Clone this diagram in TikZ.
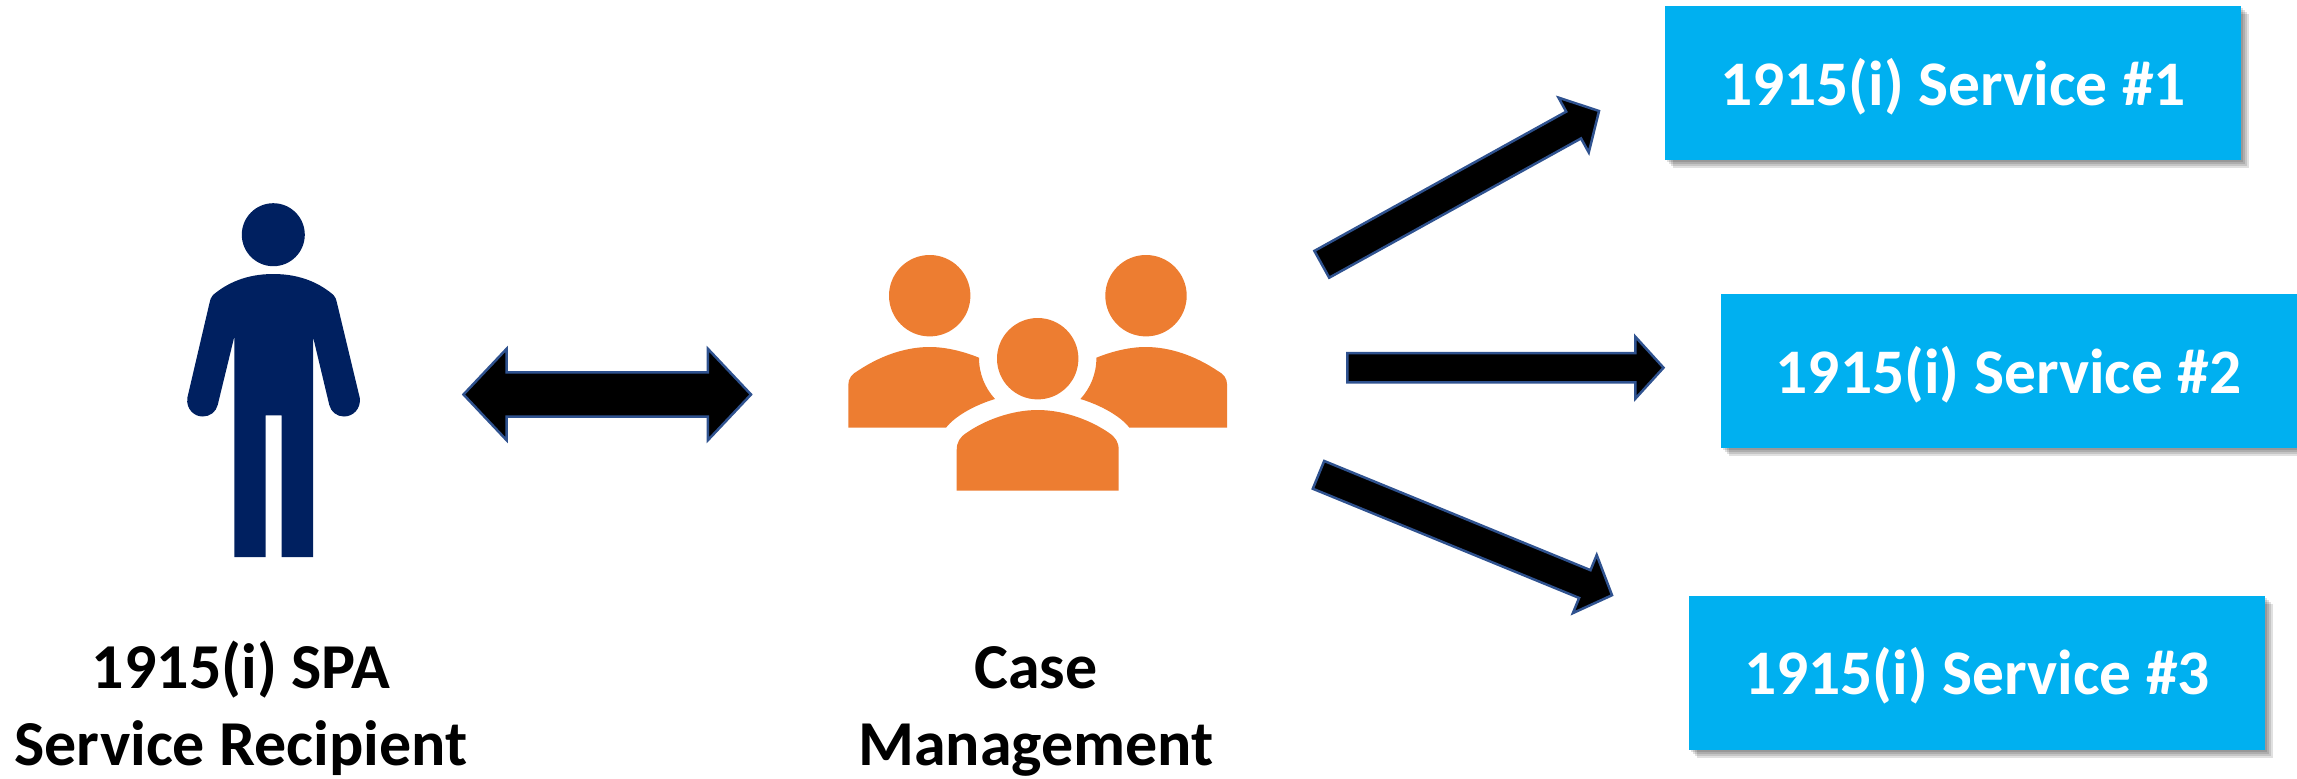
\documentclass[tikz,border=0pt]{standalone}
\usepackage{fontspec}
\setmainfont{Carlito}
\usetikzlibrary{calc,shadows}
\definecolor{navyicon}{HTML}{002060}
\definecolor{orangeicon}{HTML}{ED7D31}
\definecolor{servblue}{HTML}{00B0F0}
\definecolor{arrowedge}{HTML}{2F528F}
\tikzset{
	softshadow/.style={drop shadow={shadow xshift=#1pt,shadow yshift=-#1pt,fill=black,opacity=.12}},
	servbox/.style={fill=servblue,minimum width=576pt,minimum height=154pt,inner sep=0pt,text=white,
		font=\fontsize{63.5}{76.6}\selectfont\bfseries,text height=44pt,text depth=0pt,
		softshadow=2,softshadow=4,softshadow=6,softshadow=8},
	caption/.style={align=center,anchor=base,inner sep=0pt,font=\fontsize{64}{76.6}\selectfont\bfseries},
	blockbase/.style={fill=black,draw=arrowedge,line width=2.5pt,miter limit=10},
	% half shaft, half head, head length
	blockarrow/.style n args={3}{blockbase,to path={
		($(\tikztostart)!#1!90:(\tikztotarget)$)
		-- ($(\tikztotarget)!#3!(\tikztostart)!#1!90:(\tikztotarget)$)
		-- ($(\tikztotarget)!#3!(\tikztostart)!#2!90:(\tikztotarget)$)
		-- (\tikztotarget)
		-- ($(\tikztotarget)!#3!(\tikztostart)!#2!-90:(\tikztotarget)$)
		-- ($(\tikztotarget)!#3!(\tikztostart)!#1!-90:(\tikztotarget)$)
		-- ($(\tikztostart)!#1!-90:(\tikztotarget)$) -- cycle}},
	twowayarrow/.style n args={3}{blockbase,to path={
		(\tikztostart)
		-- ($(\tikztostart)!#3!(\tikztotarget)!#2!-90:(\tikztotarget)$)
		-- ($(\tikztostart)!#3!(\tikztotarget)!#1!-90:(\tikztotarget)$)
		-- ($(\tikztotarget)!#3!(\tikztostart)!#1!-90:(\tikztotarget)$)
		-- ($(\tikztotarget)!#3!(\tikztostart)!#2!-90:(\tikztotarget)$)
		-- (\tikztotarget)
		-- ($(\tikztotarget)!#3!(\tikztostart)!#2!90:(\tikztotarget)$)
		-- ($(\tikztotarget)!#3!(\tikztostart)!#1!90:(\tikztotarget)$)
		-- ($(\tikztostart)!#3!(\tikztotarget)!#1!90:(\tikztotarget)$)
		-- ($(\tikztostart)!#3!(\tikztotarget)!#2!90:(\tikztotarget)$) -- cycle}}
}

\begin{document}
\begin{tikzpicture}[x=1pt,y=-1pt]
	\useasboundingbox (0,0) rectangle (2297,779);

	% recipient icon
	\fill[navyicon] (273.3,234.7) circle[radius=31.5pt];
	\fill[navyicon] (273.3,274) .. controls (245,274) and (226,284) .. (213,295)
		.. controls (211,297) and (210,300) .. (209.5,303) -- (187.3,398)
		.. controls (186,409) and (194,416.5) .. (202.7,416.5)
		.. controls (210,416.5) and (216,412) .. (217.7,405) -- (234.3,336.7)
		-- (234.3,557) -- (265.7,557) -- (265.7,415.3) -- (281.7,415.3) -- (281.7,557)
		-- (313,557) -- (313,336.7) -- (329.3,405)
		.. controls (331,412) and (337,416.5) .. (344,416.5)
		.. controls (353,416.5) and (361,409) .. (359.8,398) -- (337,303)
		.. controls (336.5,300) and (335.5,297) .. (333.5,295)
		.. controls (320.6,284) and (301.6,274) .. (273.3,274) -- cycle;

	% case management icon
	\fill[orangeicon] (929.7,295.7) circle[radius=40.7pt];
	\fill[orangeicon] (1146,295.7) circle[radius=40.7pt];
	\fill[orangeicon] (1037.7,358.7) circle[radius=40.7pt];
	\fill[orangeicon] (848.3,427.7) -- (848.3,385)
		.. controls (848.3,378) and (852,374) .. (858,370.7)
		.. controls (880,356) and (905,347) .. (929.7,347)
		.. controls (947,347) and (965,352) .. (979,357.7)
		.. controls (979,374) and (985,388) .. (995,399)
		.. controls (975,405) and (955,416) .. (946,427.7) -- cycle;
	\fill[orangeicon] (1227.1,427.7) -- (1227.1,385)
		.. controls (1227.1,378) and (1223.4,374) .. (1217.4,370.7)
		.. controls (1195.4,356) and (1170.4,347) .. (1145.7,347)
		.. controls (1128.4,347) and (1110.4,352) .. (1096.4,357.7)
		.. controls (1096.4,374) and (1090.4,388) .. (1080.4,399)
		.. controls (1100.4,405) and (1120.4,416) .. (1129.4,427.7) -- cycle;
	\fill[orangeicon] (956.7,490.7) -- (956.7,450)
		.. controls (956.7,442) and (960,437) .. (966.7,432.7)
		.. controls (985,420) and (1012,410) .. (1037.7,410)
		.. controls (1063.4,410) and (1090.4,420) .. (1108.7,432.7)
		.. controls (1115.4,437) and (1118.7,442) .. (1118.7,450)
		-- (1118.7,490.7) -- cycle;

	\node[servbox] (serv-1) at (1953,83) {1915(i) Service \#1};
	\node[servbox] (serv-2) at (2008.5,371) {1915(i) Service \#2};
	\node[servbox] (serv-3) at (1977,672.5) {1915(i) Service \#3};

	\node[caption] (recipient) at (241,765.3) {1915(i) SPA\\Service Recipient};
	\node[caption] (casemgmt) at (1036,765.3) {Case\\Management};

	\coordinate (both-l) at (463.5,394.5);
	\coordinate (both-r) at (751,394.5);
	\coordinate (tail-1) at (1321.8,264.3);
	\coordinate (tip-1) at (1599,111);
	\coordinate (tail-2) at (1347.3,367.7);
	\coordinate (tip-2) at (1663.5,367.7);
	\coordinate (tail-3) at (1318.5,474.85);
	\coordinate (tip-3) at (1612,595.2);

	\path
	(both-l) edge[twowayarrow={22.2pt}{45.8pt}{43.2pt}] (both-r)
	(tail-1) edge[blockarrow={15.3pt}{31.3pt}{29pt}] (tip-1)
	(tail-2) edge[blockarrow={14.7pt}{31pt}{28.2pt}] (tip-2)
	(tail-3) edge[blockarrow={15pt}{31.4pt}{29.4pt}] (tip-3);
\end{tikzpicture}
\end{document}
